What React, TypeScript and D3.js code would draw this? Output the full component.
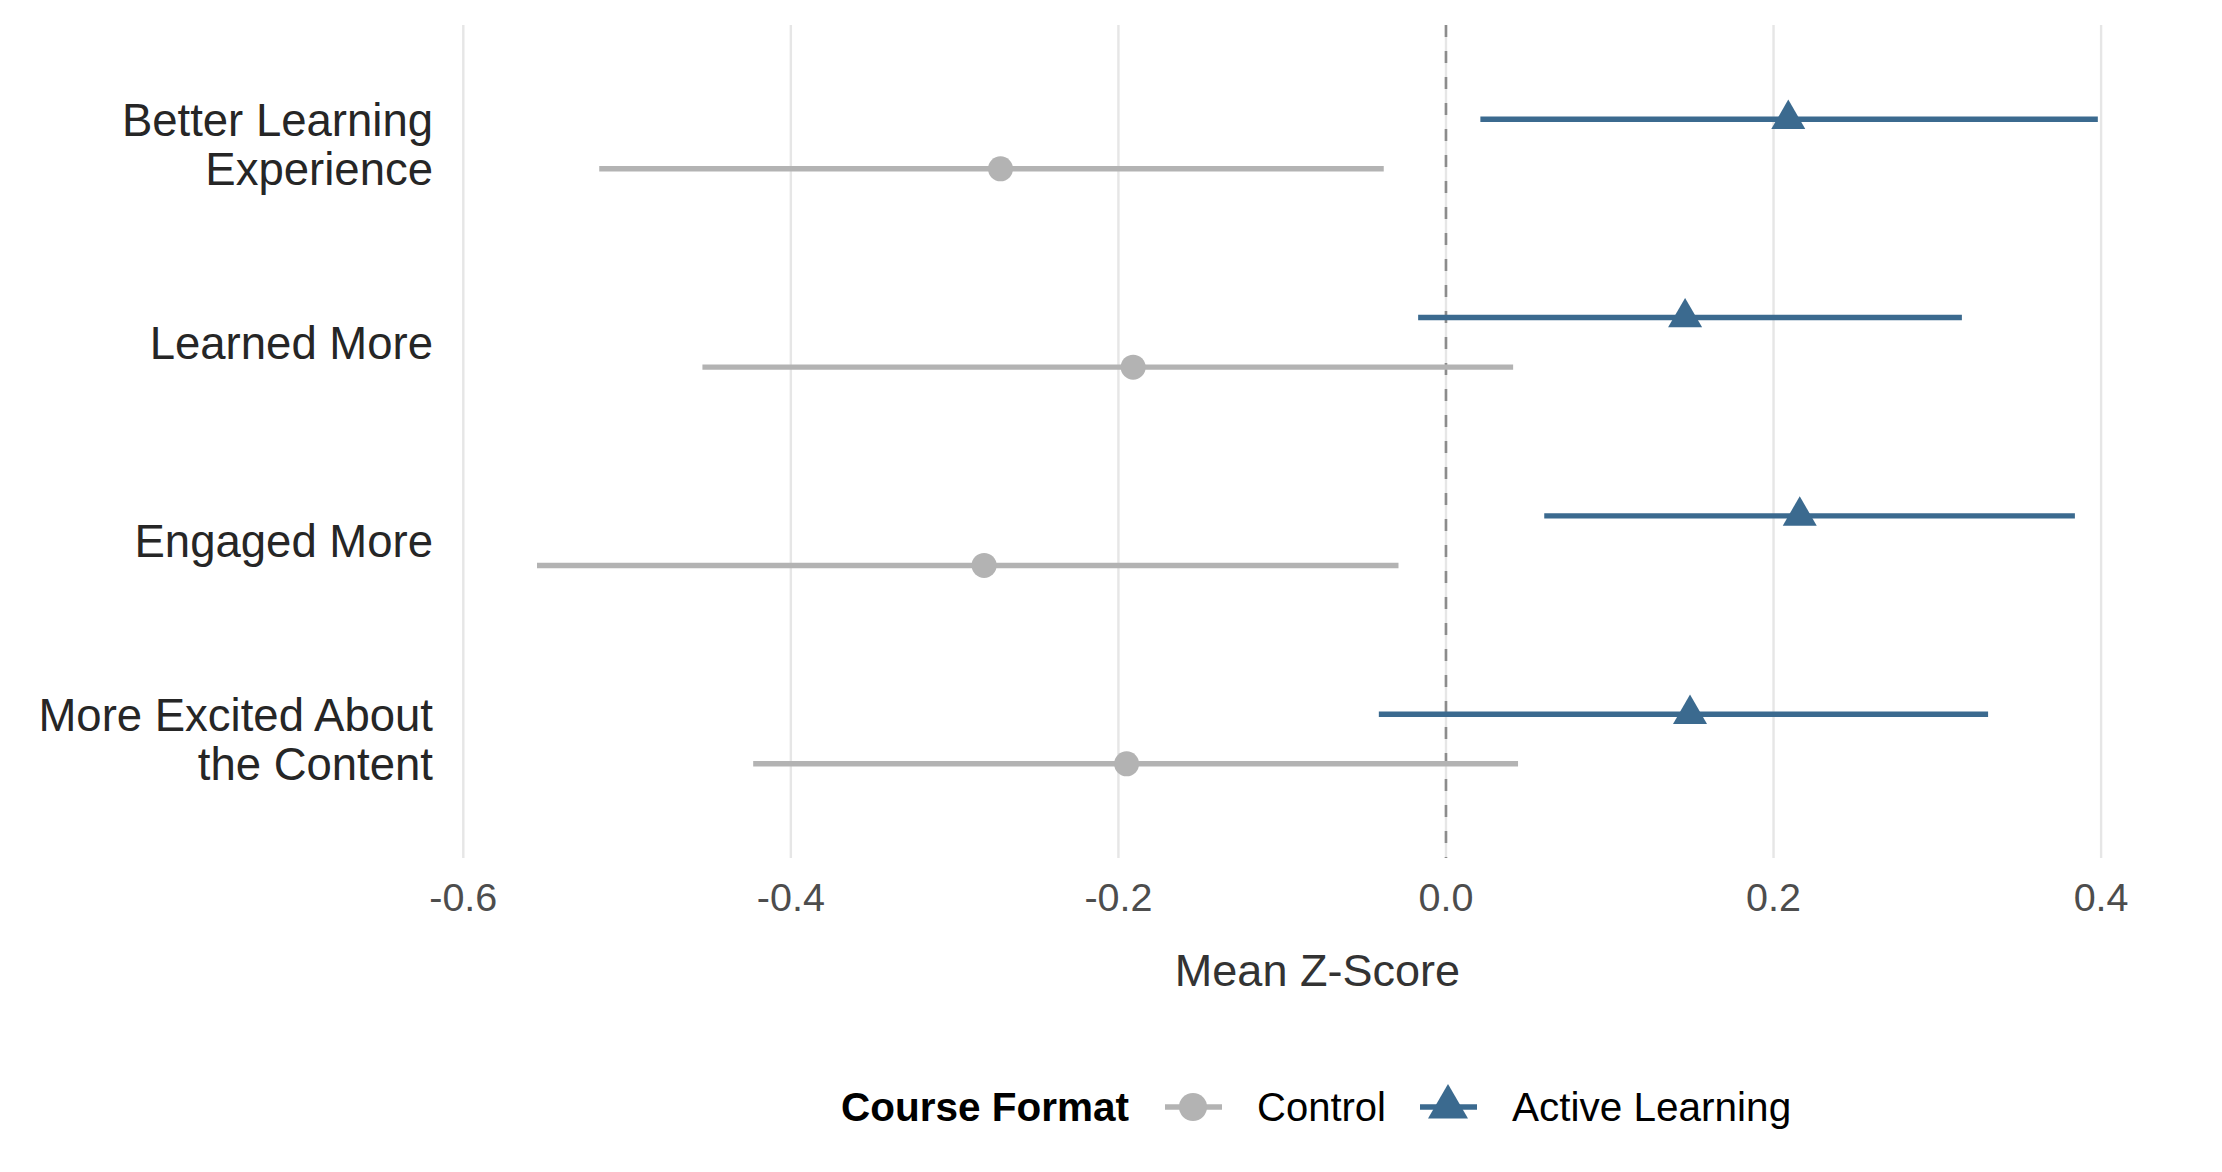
import React from "react";
import * as d3 from "d3";

const categories = [
  "Better Learning Experience",
  "Learned More",
  "Engaged More",
  "More Excited About the Content",
];
const categoryLines: string[][] = [
  ["Better Learning", "Experience"],
  ["Learned More"],
  ["Engaged More"],
  ["More Excited About", "the Content"],
];
const groups = ["Control", "Active Learning"];

const controlMean = [-0.272, -0.191, -0.282, -0.195];
const controlLow = [-0.517, -0.454, -0.555, -0.423];
const controlHigh = [-0.038, 0.041, -0.029, 0.044];

const activeMean = [0.209, 0.146, 0.216, 0.149];
const activeLow = [0.021, -0.017, 0.06, -0.041];
const activeHigh = [0.398, 0.315, 0.384, 0.331];

const xTicks = [-0.6, -0.4, -0.2, 0.0, 0.2, 0.4];

const W = 2222;
const H = 1172;
const FONT = "'Liberation Sans', Arial, Helvetica, sans-serif";
const CONTROL_COLOR = "#B3B3B3";
const ACTIVE_COLOR = "#3B6A8F";

function trianglePath(cx: number, cy: number, w: number) {
  const h = w * 0.866;
  return `M${cx},${cy - (2 * h) / 3} L${cx + w / 2},${cy + h / 3} L${cx - w / 2},${cy + h / 3} Z`;
}

export default function App() {
  const panelTop = 25;
  const panelBottom = 858;

  const x = d3.scaleLinear().domain([-0.6, 0.4]).range([463.3, 2101.1]);
  const allVals = [...controlLow, ...controlHigh, ...activeLow, ...activeHigh];
  const [mn, mx] = d3.extent(allVals) as [number, number];
  const pad = (mx - mn) * 0.05;
  const panelLeft = x(mn - pad);
  const panelRight = x(mx + pad);
  const panelCenter = (panelLeft + panelRight) / 2;

  const y = d3
    .scalePoint<string>()
    .domain(categories)
    .range([panelTop, panelBottom])
    .padding(0.6);
  const step = y.step();
  const dodge = step * 0.125;

  const series = [
    { name: groups[0], mean: controlMean, low: controlLow, high: controlHigh, color: CONTROL_COLOR, off: dodge, shape: "circle" },
    { name: groups[1], mean: activeMean, low: activeLow, high: activeHigh, color: ACTIVE_COLOR, off: -dodge, shape: "triangle" },
  ];

  return (
    <svg
      width={W}
      height={H}
      viewBox={`0 0 ${W} ${H}`}
      style={{ position: "absolute", left: 0, top: 0, display: "block", background: "#fff" }}
      fontFamily={FONT}
    >
      <rect x={0} y={0} width={W} height={H} fill="#ffffff" />
      {/* vertical gridlines */}
      {xTicks.map((t) => (
        <line
          key={"g" + t}
          x1={x(t)}
          x2={x(t)}
          y1={panelTop}
          y2={panelBottom}
          stroke="#E6E6E6"
          strokeWidth={2.4}
        />
      ))}
      {/* zero reference */}
      <line
        x1={x(0)}
        x2={x(0)}
        y1={panelTop}
        y2={panelBottom}
        stroke="#8C8C8C"
        strokeWidth={2.6}
        strokeDasharray="12,14"
      />
      {/* error bars and points */}
      {series.map((s) =>
        categories.map((c, i) => {
          const cy = (y(c) as number) + s.off;
          return (
            <g key={s.name + c}>
              <line
                x1={x(s.low[i])}
                x2={x(s.high[i])}
                y1={cy}
                y2={cy}
                stroke={s.color}
                strokeWidth={5.4}
              />
              {s.shape === "circle" ? (
                <circle cx={x(s.mean[i])} cy={cy} r={12.5} fill={s.color} />
              ) : (
                <path d={trianglePath(x(s.mean[i]), cy, 34)} fill={s.color} />
              )}
            </g>
          );
        })
      )}
      {/* y axis labels */}
      {categories.map((c, i) => {
        const lines = categoryLines[i];
        const cy = y(c) as number;
        const lh = 49;
        const first = cy + 16.4 - ((lines.length - 1) * lh) / 2;
        return (
          <text key={"yl" + c} textAnchor="end" fontSize={45.5} fill="#262626">
            {lines.map((ln, j) => (
              <tspan key={j} x={433} y={first + j * lh}>
                {ln}
              </tspan>
            ))}
          </text>
        );
      })}
      {/* x tick labels */}
      {xTicks.map((t) => (
        <text
          key={"t" + t}
          x={x(t)}
          y={911}
          textAnchor="middle"
          fontSize={39.5}
          fill="#4D4D4D"
        >
          {t < 0 ? "-" + Math.abs(t).toFixed(1) : t.toFixed(1)}
        </text>
      ))}
      {/* x axis title */}
      <text x={panelCenter} y={986} textAnchor="middle" fontSize={45} fill="#333333">
        Mean Z-Score
      </text>
      {/* legend */}
      <g>
        <text x={841} y={1121} fontSize={40.5} fontWeight="bold" fill="#000000">
          Course Format
        </text>
        <line x1={1165} x2={1222} y1={1107} y2={1107} stroke={CONTROL_COLOR} strokeWidth={5.4} />
        <circle cx={1193} cy={1107} r={14} fill={CONTROL_COLOR} />
        <text x={1257} y={1121} fontSize={40} fill="#000000">
          {groups[0]}
        </text>
        <line x1={1420} x2={1477} y1={1107} y2={1107} stroke={ACTIVE_COLOR} strokeWidth={5.4} />
        <path d={trianglePath(1448, 1107, 40)} fill={ACTIVE_COLOR} />
        <text x={1512} y={1121} fontSize={40.5} fill="#000000">
          {groups[1]}
        </text>
      </g>
    </svg>
  );
}
